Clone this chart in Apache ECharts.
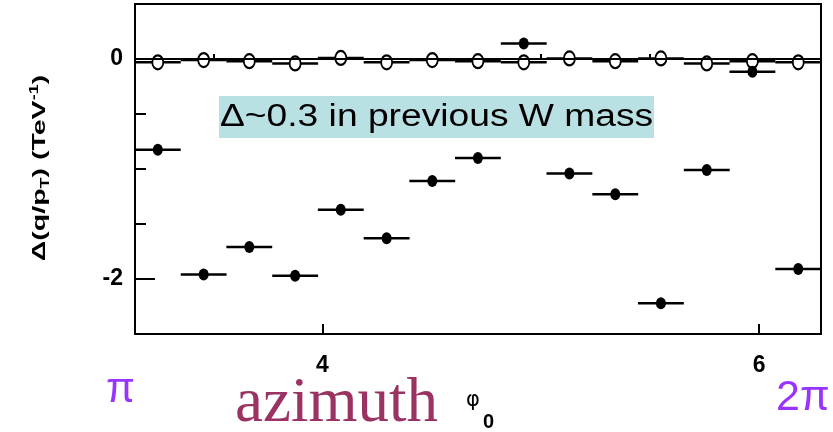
<!DOCTYPE html>
<html>
<head>
<meta charset="utf-8">
<script src="https://cdn.jsdelivr.net/npm/echarts@6/dist/echarts.min.js"></script>
<style>html,body{margin:0;padding:0;background:#fff}#c{width:833px;height:432px}</style>
</head>
<body>
<div id="c"></div>
<script>
// bin centres in azimuth phi0 (15 bins between pi and 2pi)
var phiCenters = [3.246, 3.456, 3.665, 3.875, 4.084, 4.294, 4.503, 4.712, 4.922, 5.131, 5.341, 5.550, 5.760, 5.969, 6.179];
var binHalfWidth = 0.105;
// filled points: before correction
var filledValues = [-0.825, -1.96, -1.71, -1.97, -1.37, -1.63, -1.11, -0.90, 0.14, -1.04, -1.23, -2.22, -1.01, -0.115, -1.91];
// open points: after correction
var openValues = [-0.03, -0.01, -0.02, -0.04, 0.01, -0.03, -0.01, -0.02, -0.03, 0.005, -0.02, 0.005, -0.04, -0.02, -0.03];
var xMajorTicks = [4, 6];
var xMinorTicks = [3.5, 4.5, 5, 5.5];
var yMajorTicks = [0, -2];
var yMinorTicks = [-0.5, -1, -1.5];
var xMin = Math.PI, xMax = 2 * Math.PI, yMin = -2.5, yMax = 0.5;

var filledData = phiCenters.map(function (x, i) { return [x, filledValues[i]]; });
var openData = phiCenters.map(function (x, i) { return [x, openValues[i]]; });
var filledErr = phiCenters.map(function (x, i) { return [x, filledValues[i], binHalfWidth]; });
var openErr = phiCenters.map(function (x, i) { return [x, openValues[i], binHalfWidth]; });

function errRender(params, api) {
  var x = api.value(0), y = api.value(1), h = api.value(2);
  var p1 = api.coord([x - h, y]), p2 = api.coord([x + h, y]);
  return { type: 'line', shape: { x1: p1[0], y1: p1[1], x2: p2[0], y2: p2[1] },
           style: { stroke: '#000', lineWidth: 2.5 } };
}
var tickRich = { b: { fontFamily: 'Liberation Sans', fontWeight: 'bold', fontSize: 23, color: '#000' } };
function tickFmt(v) { return '{b|' + String(v) + '}'; }

var chart = echarts.init(document.getElementById('c'), null, { renderer: 'canvas' });
chart.setOption({
  animation: false,
  backgroundColor: '#fff',
  grid: { left: 135, top: 4, right: 12, bottom: 98, show: true, borderColor: '#000', borderWidth: 2, backgroundColor: 'transparent' },
  xAxis: [
    { type: 'value', min: xMin, max: xMax, position: 'bottom',
      axisLine: { show: true, onZero: false, lineStyle: { color: '#000', width: 2 } },
      axisTick: { show: true, inside: true, length: 10, lineStyle: { color: '#000', width: 2 }, customValues: xMajorTicks },
      axisLabel: { show: true, margin: 20, customValues: xMajorTicks, formatter: tickFmt, rich: tickRich,
        fontFamily: 'Liberation Sans', fontWeight: 'bold', fontSize: 23, color: '#000' },
      splitLine: { show: false } },
    { type: 'value', min: xMin, max: xMax, position: 'bottom',
      axisLine: { show: false },
      axisTick: { show: true, inside: true, length: 5, lineStyle: { color: '#000', width: 2 }, customValues: xMinorTicks },
      axisLabel: { show: false }, splitLine: { show: false } }
  ],
  yAxis: [
    { type: 'value', min: yMin, max: yMax, position: 'left',
      axisLine: { show: true, onZero: false, lineStyle: { color: '#000', width: 2 } },
      axisTick: { show: true, inside: true, length: 20, lineStyle: { color: '#000', width: 2 }, customValues: yMajorTicks },
      axisLabel: { show: true, margin: 12, customValues: yMajorTicks, formatter: tickFmt, rich: tickRich,
        fontFamily: 'Liberation Sans', fontWeight: 'bold', fontSize: 23, color: '#000' },
      splitLine: { show: false } },
    { type: 'value', min: yMin, max: yMax, position: 'left',
      axisLine: { show: false },
      axisTick: { show: true, inside: true, length: 11, lineStyle: { color: '#000', width: 2 }, customValues: yMinorTicks },
      axisLabel: { show: false }, splitLine: { show: false } }
  ],
  series: [
    { type: 'custom', renderItem: errRender, data: openErr, xAxisIndex: 0, yAxisIndex: 0, z: 2,
      encode: { x: 0, y: 1 } },
    { type: 'scatter', data: openData, xAxisIndex: 0, yAxisIndex: 0, z: 4,
      symbol: 'circle', symbolSize: [11, 14],
      itemStyle: { color: '#fff', borderColor: '#000', borderWidth: 2, opacity: 1 },
      markLine: { silent: true, symbol: ['none', 'none'], label: { show: false },
        lineStyle: { color: '#000', width: 2, type: 'solid' }, data: [{ yAxis: 0 }] } },
    { type: 'custom', renderItem: errRender, data: filledErr, xAxisIndex: 0, yAxisIndex: 0, z: 3,
      encode: { x: 0, y: 1 } },
    { type: 'scatter', data: filledData, xAxisIndex: 0, yAxisIndex: 0, z: 5,
      symbol: 'circle', symbolSize: [10, 12],
      itemStyle: { color: '#000', opacity: 1 } }
  ],
  graphic: [
    { type: 'rect', left: 219, top: 96, shape: { width: 435, height: 42 }, style: { fill: '#b9e0e3' }, z: 10 },
    { type: 'text', x: 220, y: 117, scaleX: 1.2, z: 11,
      style: { text: 'Δ~0.3 in previous W mass', fontFamily: 'Liberation Sans', fontSize: 31, fill: '#000', verticalAlign: 'middle', textAlign: 'left' } },
    { type: 'text', x: 40, y: 168, rotation: Math.PI / 2, scaleX: 1.5, z: 11,
      style: { text: '{n|Δ(q/p}{sub|T}{n|) (TeV}{sup|-1}{n|)}', textAlign: 'center', verticalAlign: 'middle',
        rich: {
          n: { fontFamily: 'Liberation Sans', fontWeight: 'bold', fontSize: 19, fill: '#000' },
          sub: { fontFamily: 'Liberation Sans', fontWeight: 'bold', fontSize: 12, fill: '#000', padding: [11, 0, 0, 0] },
          sup: { fontFamily: 'Liberation Sans', fontWeight: 'bold', fontSize: 12, fill: '#000', padding: [0, 0, 11, 0] }
        } } },
    { type: 'text', x: 106, y: 390, z: 11,
      style: { text: 'π', fontFamily: 'Liberation Sans', fontSize: 42, fill: '#9933ff', verticalAlign: 'middle', textAlign: 'left' } },
    { type: 'text', x: 776, y: 398, z: 11,
      style: { text: '2π', fontFamily: 'Liberation Sans', fontSize: 43, fill: '#9933ff', verticalAlign: 'middle', textAlign: 'left' } },
    { type: 'text', x: 235, y: 404, z: 11,
      style: { text: 'azimuth', fontFamily: 'Liberation Serif', fontSize: 63, fill: '#9a3262', verticalAlign: 'middle', textAlign: 'left' } },
    { type: 'text', x: 466, y: 401, z: 11,
      style: { text: 'φ', fontFamily: 'DejaVu Sans', fontSize: 21, fill: '#000', verticalAlign: 'middle', textAlign: 'left' } },
    { type: 'text', x: 483, y: 422, z: 11,
      style: { text: '0', fontFamily: 'Liberation Sans', fontWeight: 'bold', fontSize: 20, fill: '#000', verticalAlign: 'middle', textAlign: 'left' } }
  ]
});
</script>
</body>
</html>
